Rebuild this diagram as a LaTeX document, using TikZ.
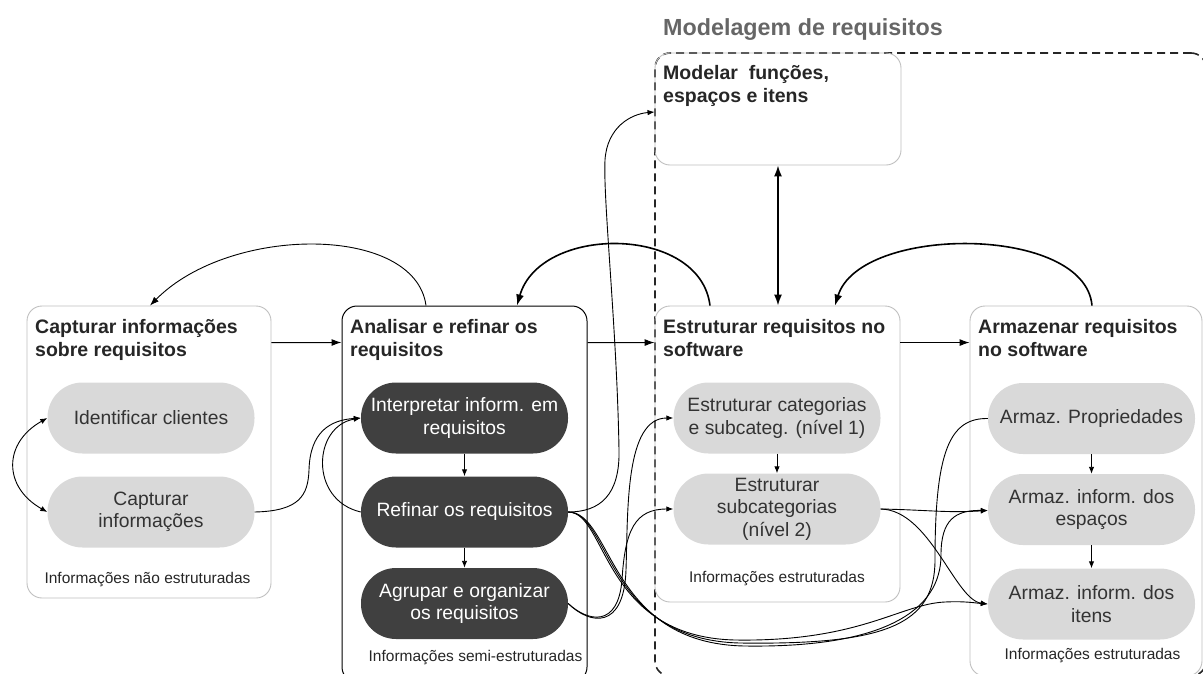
\documentclass[tikz,border=0pt]{standalone}
\usepackage{fontspec}
\setmainfont{Liberation Sans}
\usetikzlibrary{arrows.meta}

\definecolor{boxline}{HTML}{BFBFBF}
\definecolor{pilllight}{HTML}{D9D9D9}
\definecolor{pilldark}{HTML}{404040}
\definecolor{txtdark}{HTML}{262626}
\definecolor{txtpill}{HTML}{333333}
\definecolor{headgray}{HTML}{666666}
\definecolor{dashline}{HTML}{262626}

\tikzset{
  stage/.style={draw=boxline, line width=0.9pt, rounded corners=15pt, inner sep=0pt},
  stagedark/.style={stage, draw=black},
  stagetitle/.style={anchor=north west, inner sep=0pt, align=left, text=txtdark,
    font=\fontsize{19.5}{23}\selectfont\bfseries},
  pill/.style={rounded corners=35pt, minimum width=207pt, minimum height=71pt,
    inner sep=0pt, align=center, font=\fontsize{19.3}{22.5}\selectfont},
  lightpill/.style={pill, fill=pilllight, text=txtpill},
  darkpill/.style={pill, fill=pilldark, text=white},
  note/.style={inner sep=0pt, text=txtdark, font=\fontsize{15.5}{18}\selectfont},
  bigflow/.style={line width=1pt, -{Latex[length=10pt, width=7pt]}},
  arcflow/.style={line width=1.6pt, -{Latex[length=11pt, width=8pt]}},
  link/.style={line width=0.9pt, -{Latex[length=7pt, width=5.5pt]}},
  plain/.style={line width=0.9pt},
}

\begin{document}
\begin{tikzpicture}[x=1pt, y=-1pt]
\useasboundingbox (0,0) rectangle (1203,673);

% heading of the modelling group
\node[anchor=north west, inner sep=0pt, text=headgray,
      font=\fontsize{23.3}{26}\selectfont\bfseries] (grouptitle) at (663,18.5) {Modelagem de requisitos};

% dashed frame of the modelling group
\node[draw=dashline, dashed, dash pattern=on 8pt off 5pt, line width=1.6pt,
      rounded corners=15pt, minimum width=551pt, minimum height=623pt, inner sep=0pt]
      (group) at (930.5,364.5) {};

% stage boxes
\node[stage, minimum width=244pt, minimum height=292pt] (s1) at (149,452) {};
\node[stagedark, line width=1pt, minimum width=245pt, minimum height=376pt] (s2) at (464.5,494) {};
\node[stage, minimum width=245pt, minimum height=296pt] (s3) at (777.5,454) {};
\node[stage, minimum width=232pt, minimum height=370pt] (s4) at (1086,491) {};
\node[stage, minimum width=246pt, minimum height=112pt] (mod) at (778,109) {};

% stage titles
\node[stagetitle] (t1) at (35,319) {Capturar informações\\sobre requisitos};
\node[stagetitle] (t2) at (350,319) {Analisar e refinar os\\requisitos};
\node[stagetitle] (t3) at (663,319) {Estruturar requisitos no\\software};
\node[stagetitle] (t4) at (978,319) {Armazenar requisitos\\no software};
\node[stagetitle] (tm) at (663,65) {Modelar\ \ funções,\\espaços e itens};

% activities
\node[lightpill] (p11) at (151,418) {Identificar clientes};
\node[lightpill] (p12) at (151,512) {Capturar\\informações};

\node[darkpill] (p21) at (464.5,418) {Interpretar inform. em\\requisitos};
\node[darkpill] (p22) at (464.5,512) {Refinar os requisitos};
\node[darkpill] (p23) at (464.5,603.5) {Agrupar e organizar\\os requisitos};

\node[lightpill] (p31) at (777,418) {Estruturar categorias\\e subcateg. (nível 1)};
\node[lightpill] (p32) at (777,509) {Estruturar\\subcategorias\\(nível 2)};

\node[lightpill] (p41) at (1091.5,418.5) {Armaz. Propriedades};
\node[lightpill] (p42) at (1091.5,509.5) {Armaz. inform. dos\\espaços};
\node[lightpill] (p43) at (1091.5,604) {Armaz. inform. dos\\itens};

% notes at the foot of the stages
\node[note] (n1) at (147.5,580) {Informações não estruturadas};
\node[note] (n2) at (475.5,658) {Informações semi-estruturadas};
\node[note] (n3) at (777,579) {Informações estruturadas};
\node[note] (n4) at (1092.5,656) {Informações estruturadas};

% main sequence between stages
\draw[bigflow] ([yshift=-37pt]s1.north east) -- ([yshift=-37pt]s2.north west);
\draw[bigflow] ([yshift=-37pt]s2.north east) -- ([yshift=-37pt]s3.north west);
\draw[bigflow] ([yshift=-37pt]s3.north east) -- ([yshift=-37pt]s4.north west);

% feedback arcs over the stages
\draw[line width=0.9pt, -{Latex[length=9pt, width=6.5pt]}]
  ([xshift=-38.5pt]s2.north) .. controls +(-11,-81) and +(80,-81) .. ([xshift=1pt]s1.north);
\draw[arcflow]
  ([xshift=-67.5pt]s3.north) .. controls +(-10,-81) and +(23,-81) .. ([xshift=52.5pt]s2.north);
\draw[arcflow]
  ([xshift=6pt]s4.north) .. controls +(-7,-81) and +(25,-81) .. ([xshift=57.5pt]s3.north);

% modelling box linked both ways with the structuring stage
\draw[line width=1.6pt, {Latex[length=11pt, width=8pt]}-{Latex[length=11pt, width=8pt]}]
  (mod.south) -- (mod.south |- s3.north);

% steps inside the stages
\draw[link] (p21.south) -- (p22.north);
\draw[link] (p22.south) -- (p23.north);
\draw[link] (p31.south) -- (p32.north);
\draw[link] (p41.south) -- (p42.north);
\draw[link] (p42.south) -- (p43.north);

% capture stage
\draw[line width=0.9pt, {Latex[length=7pt, width=5.5pt]}-{Latex[length=7pt, width=5.5pt]}]
  (p11.west) .. controls (3,443) and (3,487) .. (p12.west);
\draw[link] (p12.east) .. controls (300,511) and (308,495) .. (309,470)
  .. controls (310,432) and (330,420) .. (p21.west);

% analysis stage
\draw[link] (p22.west) .. controls +(-52,-12) and +(-48,8) .. (p21.west);
\draw[link] (p22.east) .. controls (600,512) and (620,495) .. (619,450)
  .. controls (617,330) and (603,200) .. (605,160)
  .. controls (607,128) and (630,114) .. ([yshift=-3pt]mod.west);
\draw[link] (p23.east) .. controls (590,625) and (624,630) .. (626,570)
  .. controls (628,510) and (625,418) .. (p31.west);
\draw[link] (p23.east) .. controls (588,622) and (618,628) .. (622,580)
  .. controls (625,530) and (635,509) .. (p32.west);

% refined requirements carried to the storage stage
\draw[plain] (p22.east) .. controls (610,512) and (605,640) .. (740,643)
  .. controls (885,645) and (935,625) .. (935,560)
  .. controls (935,450) and (950,418) .. (p41.west);
\draw[link] (p22.east) .. controls (613,512) and (608,644) .. (745,646)
  .. controls (885,648) and (941,610) .. (941,555)
  .. controls (941,520) and (955,510) .. ([yshift=-1pt]p42.west);
\draw[link] (p22.east) .. controls (607,512) and (602,637) .. (735,640)
  .. controls (860,642) and (900,604) .. (945,602)
  .. controls (965,601) and (975,603) .. (p43.west);

% structured categories carried to the storage stage
\draw[link] (p32.east) .. controls (930,510) and (945,513) .. ([yshift=-1pt]p42.west);
\draw[link] (p32.east) .. controls (930,510) and (955,600) .. (p43.west);
\end{tikzpicture}
\end{document}
